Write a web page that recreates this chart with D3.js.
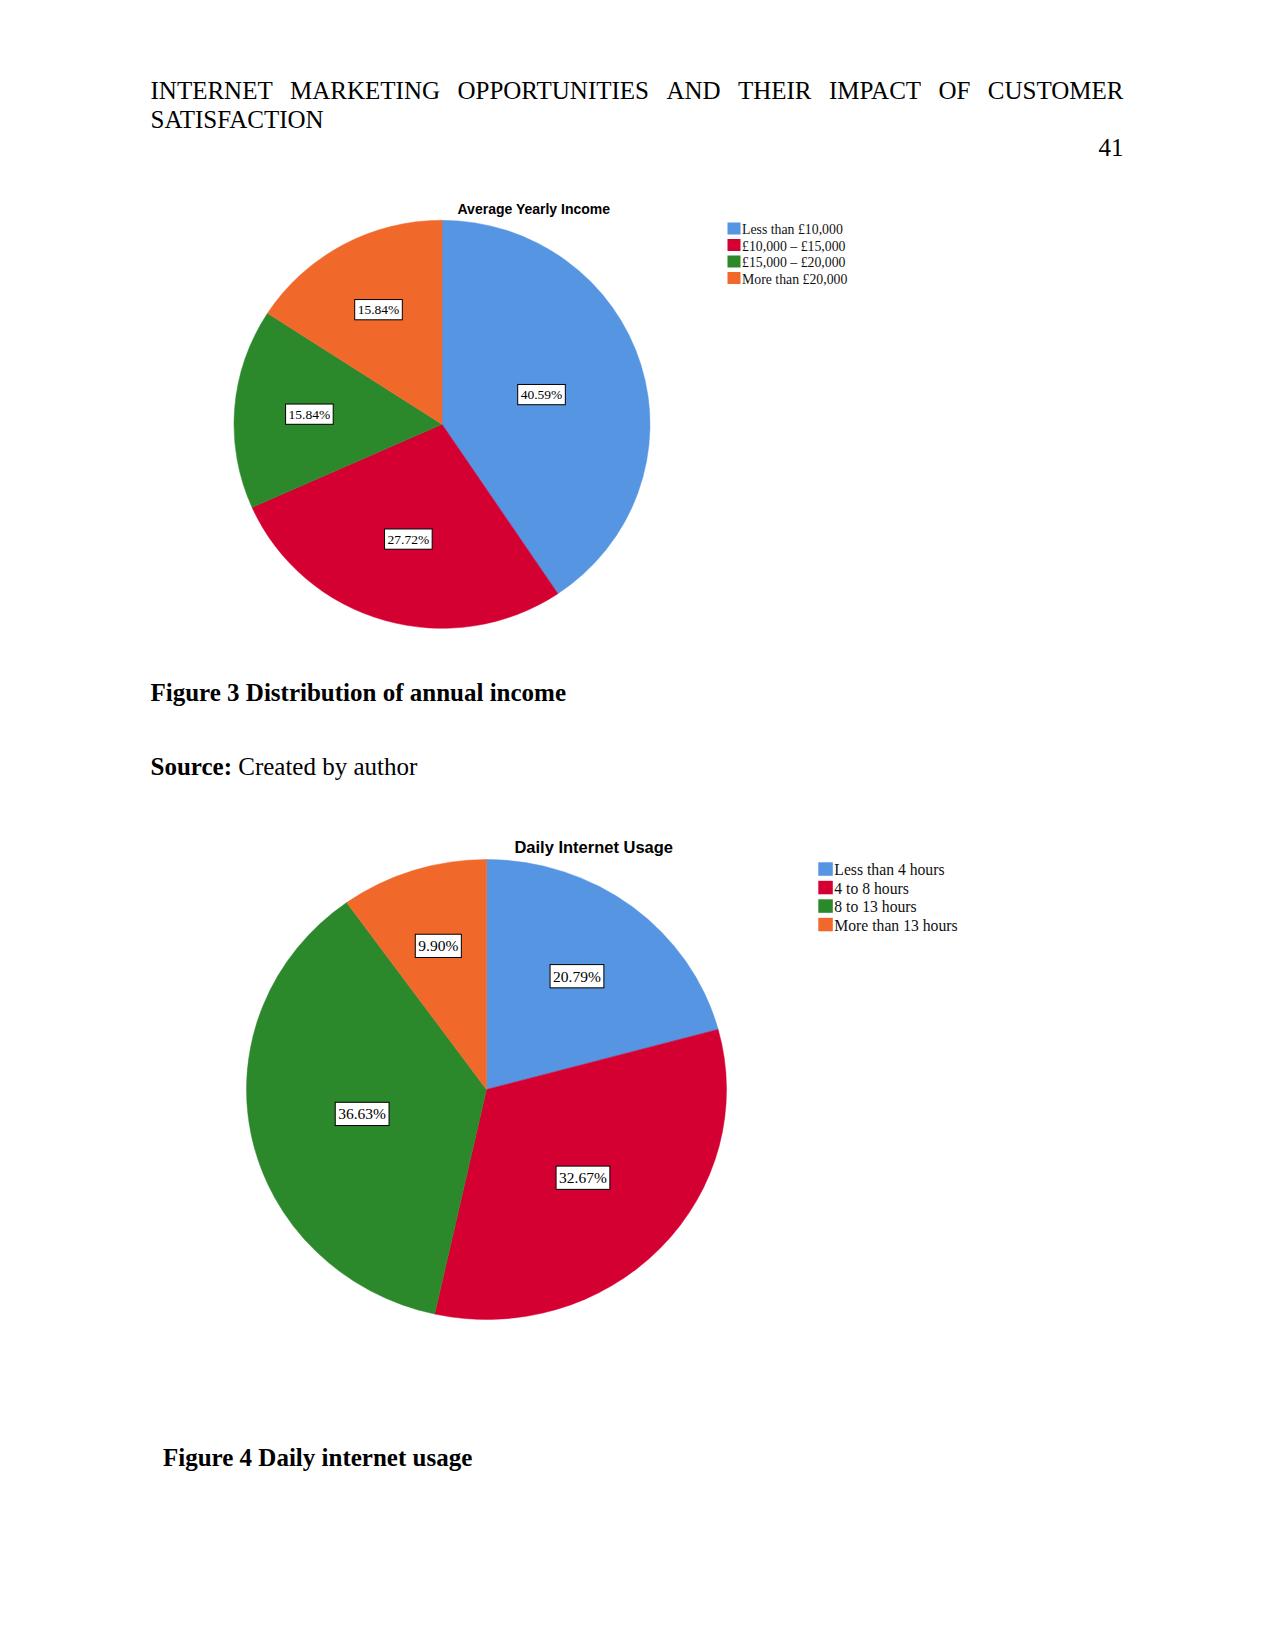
<!DOCTYPE html>
<html>
<head>
<meta charset="utf-8">
<script src="https://cdn.jsdelivr.net/npm/d3@7"></script>
<style>
  html, body { margin: 0; padding: 0; background: #ffffff; }
  svg { display: block; }
</style>
</head>
<body>
<svg id="page" width="1275" height="1651"></svg>
<script>
// ---------- DATA ----------
const headerLine1 = ["INTERNET", "MARKETING", "OPPORTUNITIES", "AND", "THEIR", "IMPACT", "OF", "CUSTOMER"];
const headerLine2 = "SATISFACTION";
const pageNumber = "41";

const incomeTitle = "Average Yearly Income";
const incomeCategories = ["Less than £10,000", "£10,000 – £15,000", "£15,000 – £20,000", "More than £20,000"];
const incomeValues = [40.59, 27.72, 15.84, 15.84];

const usageTitle = "Daily Internet Usage";
const usageCategories = ["Less than 4 hours", "4 to 8 hours", "8 to 13 hours", "More than 13 hours"];
const usageValues = [20.79, 32.67, 36.63, 9.90];

const sliceColors = ["#5595E2", "#D50032", "#2B882B", "#F0692B"];

const caption3 = "Figure 3 Distribution of annual income";
const sourceBold = "Source:";
const sourceText = " Created by author";
const caption4 = "Figure 4 Daily internet usage";

// ---------- DRAW ----------
const svg = d3.select("#page");
const serif = "'Liberation Serif', 'Times New Roman', serif";
const sans = "'Liberation Sans', Arial, sans-serif";

// Header (justified line)
const hLeft = 150.5, hRight = 1123.5, hSize = 25;
const hg = svg.append("g").attr("font-family", serif).attr("font-size", hSize).attr("fill", "#000");
const words = hg.selectAll("text.w").data(headerLine1).enter().append("text")
  .attr("class", "w").attr("y", 99).text(d => d);
const widths = [];
words.each(function() { widths.push(this.getComputedTextLength()); });
const totalW = d3.sum(widths);
const gap = (hRight - hLeft - totalW) / (headerLine1.length - 1);
let cx = hLeft;
words.each(function(d, i) { d3.select(this).attr("x", cx); cx += widths[i] + gap; });
hg.append("text").attr("x", hLeft).attr("y", 128).text(headerLine2);
hg.append("text").attr("x", hRight).attr("y", 156).attr("text-anchor", "end").text(pageNumber);

// Pie drawing
function drawPie(opt) {
  const g = svg.append("g").attr("transform", `translate(${opt.cx},${opt.cy})`);
  const pie = d3.pie().sort(null).value(d => d)(opt.values);
  const arc = d3.arc().innerRadius(0).outerRadius(opt.rx);
  const ys = opt.ry / opt.rx;
  g.append("g").attr("transform", `scale(1,${ys})`)
    .selectAll("path").data(pie).enter().append("path")
    .attr("d", arc)
    .attr("fill", (d, i) => sliceColors[i])
    .attr("stroke", (d, i) => sliceColors[i])
    .attr("stroke-width", 0.5);

  // labels at area centroid of each sector
  const lg = g.append("g").attr("font-family", serif).attr("font-size", opt.labelSize);
  pie.forEach((d, i) => {
    const theta = d.endAngle - d.startAngle;
    const mid = (d.startAngle + d.endAngle) / 2;
    const dist = (2 / 3) * opt.rx * Math.sin(theta / 2) / (theta / 2);
    const x = Math.sin(mid) * dist;
    const y = -Math.cos(mid) * dist * ys;
    const lab = lg.append("g").attr("transform", `translate(${x},${y})`);
    const rect = lab.append("rect").attr("fill", "#fff").attr("stroke", "#000").attr("stroke-width", 1);
    const t = lab.append("text").attr("text-anchor", "middle").attr("dy", "0.35em")
      .attr("fill", "#000").text(d3.format(".2f")(opt.values[i]) + "%");
    const tw = t.node().getComputedTextLength();
    const bw = tw + 6, bh = opt.labelSize * 1.5;
    rect.attr("x", -bw / 2).attr("y", -bh / 2).attr("width", bw).attr("height", bh);
  });

  // title
  svg.append("text").attr("x", opt.titleX).attr("y", opt.titleY)
    .attr("text-anchor", "middle").attr("font-family", sans).attr("font-weight", "bold")
    .attr("font-size", opt.titleSize).attr("fill", "#000").text(opt.title);

  // legend
  const leg = svg.append("g").attr("transform", `translate(${opt.legX},${opt.legY})`)
    .attr("font-family", serif).attr("font-size", opt.legSize);
  const rows = leg.selectAll("g").data(opt.categories).enter().append("g")
    .attr("transform", (d, i) => `translate(0,${i * opt.legPitch})`);
  rows.append("rect").attr("width", opt.sw).attr("height", opt.sw - 1)
    .attr("fill", (d, i) => sliceColors[i]);
  rows.append("text").attr("x", opt.sw + 1.5).attr("y", opt.sw - 1.5)
    .attr("fill", "#111").text(d => d);
}

drawPie({
  cx: 442, cy: 424.3, rx: 208, ry: 204,
  values: incomeValues, categories: incomeCategories,
  labelSize: 13.5,
  title: incomeTitle, titleX: 533.8, titleY: 213.5, titleSize: 14,
  legX: 727.5, legY: 222.5, legPitch: 16.5, legSize: 13.8, sw: 13
});

drawPie({
  cx: 486.5, cy: 1089.5, rx: 240, ry: 230,
  values: usageValues, categories: usageCategories,
  labelSize: 15.5,
  title: usageTitle, titleX: 593.7, titleY: 853.3, titleSize: 16.5,
  legX: 818.3, legY: 862.3, legPitch: 18.5, legSize: 15.7, sw: 14.5
});

// Captions
svg.append("text").attr("x", 150.5).attr("y", 701).attr("font-family", serif)
  .attr("font-size", 25).attr("font-weight", "bold").text(caption3);
const src = svg.append("text").attr("x", 150.5).attr("y", 775).attr("font-family", serif).attr("font-size", 25);
src.append("tspan").attr("font-weight", "bold").text(sourceBold);
src.append("tspan").text(sourceText);
svg.append("text").attr("x", 163).attr("y", 1466).attr("font-family", serif)
  .attr("font-size", 25).attr("font-weight", "bold").text(caption4);
</script>
</body>
</html>
